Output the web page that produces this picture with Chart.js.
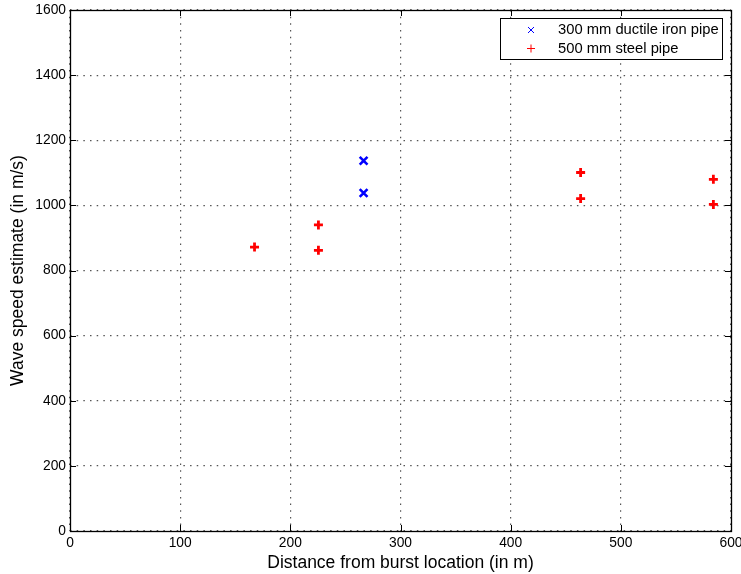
<!DOCTYPE html>
<html>
<head>
<meta charset="utf-8">
<script src="https://cdn.jsdelivr.net/npm/chart.js@4/dist/chart.umd.min.js"></script>
<style>
html,body{margin:0;padding:0;background:#fff;}
#wrap{position:relative;width:741px;height:574px;}
</style>
</head>
<body>
<div id="wrap"><canvas id="c" width="741" height="574"></canvas></div>
<script>
// Data
const seriesNames = ['300 mm ductile iron pipe', '500 mm steel pipe'];
const ductileX = [266.5, 266.5];
const ductileY = [1137, 1038];
const steelX = [167.5, 225.5, 225.5, 463.5, 463.5, 584, 584];
const steelY = [872, 940, 862, 1101, 1021, 1080, 1003];
const xTitle = 'Distance from burst location (in m)';
const yTitle = 'Wave speed estimate (in m/s)';
const xRange = [0, 600], xStep = 100;
const yRange = [0, 1600], yStep = 200;

const FONT = 'Liberation Sans, Arial, Helvetica, sans-serif';

const toPts = (xs, ys) => xs.map((x, i) => ({x: x, y: ys[i]}));

const framePlugin = {
  id: 'frame',
  afterDraw(chart) {
    const {ctx, chartArea: a, scales} = chart;
    ctx.save();
    ctx.strokeStyle = '#000';
    ctx.lineWidth = 1;
    ctx.setLineDash([]);
    // inward ticks on all sides
    const tl = 6;
    ctx.beginPath();
    scales.x.ticks.forEach(t => {
      const px = Math.round(scales.x.getPixelForValue(t.value)) + 0.5;
      ctx.moveTo(px, a.bottom); ctx.lineTo(px, a.bottom - tl);
      ctx.moveTo(px, a.top); ctx.lineTo(px, a.top + tl);
    });
    scales.y.ticks.forEach(t => {
      const py = Math.round(scales.y.getPixelForValue(t.value)) + 0.5;
      ctx.moveTo(a.left, py); ctx.lineTo(a.left + tl, py);
      ctx.moveTo(a.right, py); ctx.lineTo(a.right - tl, py);
    });
    ctx.stroke();
    // box
    ctx.lineWidth = 1.3;
    ctx.strokeRect(Math.round(a.left) + 0.5, Math.round(a.top) + 0.5,
                   Math.round(a.right - a.left), Math.round(a.bottom - a.top));
    // legend
    const lx = a.right - 231, ly = a.top + 8, lw = 222, lh = 41;
    ctx.fillStyle = '#fff';
    ctx.fillRect(lx, ly, lw, lh);
    ctx.lineWidth = 1;
    ctx.strokeRect(Math.round(lx) + 0.5, Math.round(ly) + 0.5, lw, lh);
    const rows = [ly + 12, ly + 30.5];
    const mx = lx + 31;
    // blue x
    ctx.strokeStyle = '#0000ff';
    ctx.beginPath();
    ctx.moveTo(mx - 3, rows[0] - 3); ctx.lineTo(mx + 3, rows[0] + 3);
    ctx.moveTo(mx - 3, rows[0] + 3); ctx.lineTo(mx + 3, rows[0] - 3);
    ctx.stroke();
    // red +
    ctx.strokeStyle = '#ff0000';
    ctx.beginPath();
    ctx.moveTo(mx - 4, rows[1]); ctx.lineTo(mx + 4, rows[1]);
    ctx.moveTo(mx, rows[1] - 4); ctx.lineTo(mx, rows[1] + 4);
    ctx.stroke();
    ctx.fillStyle = '#000';
    ctx.font = '14.75px ' + FONT;
    ctx.textBaseline = 'middle';
    ctx.textAlign = 'left';
    ctx.fillText(seriesNames[0], lx + 58, rows[0]);
    ctx.fillText(seriesNames[1], lx + 58, rows[1]);
    ctx.restore();
  }
};

new Chart(document.getElementById('c'), {
  type: 'scatter',
  data: {
    datasets: [
      {
        label: seriesNames[0],
        data: toPts(ductileX, ductileY),
        pointStyle: 'crossRot',
        radius: 5.5,
        borderWidth: 2.6,
        borderColor: '#0000ff',
        backgroundColor: '#0000ff'
      },
      {
        label: seriesNames[1],
        data: toPts(steelX, steelY),
        pointStyle: 'cross',
        radius: 4.5,
        borderWidth: 2.8,
        borderColor: '#ff0000',
        backgroundColor: '#ff0000'
      }
    ]
  },
  options: {
    responsive: false,
    animation: false,
    events: [],
    layout: {padding: {left: 0, right: 10, top: 10, bottom: 0}},
    plugins: {legend: {display: false}, tooltip: {enabled: false}},
    scales: {
      x: {
        type: 'linear',
        min: xRange[0], max: xRange[1],
        afterFit(s) { s.height = 43; s.paddingLeft = 0; s.paddingRight = 0; },
        ticks: {stepSize: xStep, color: '#000', font: {family: FONT, size: 13.8}, padding: 4, maxRotation: 0,
                callback: v => String(v)},
        grid: {color: '#555', lineWidth: 1.2, drawTicks: false},
        border: {display: false, dash: [1.5, 5.17]},
        title: {display: true, text: xTitle, color: '#000', font: {family: FONT, size: 17.5}, padding: {top: 0, bottom: 0}}
      },
      y: {
        type: 'linear',
        min: yRange[0], max: yRange[1],
        afterFit(s) { s.width = 70; s.paddingTop = 0; s.paddingBottom = 0; },
        ticks: {stepSize: yStep, color: '#000', font: {family: FONT, size: 13.8}, padding: 4,
                callback: v => String(v)},
        grid: {color: '#555', lineWidth: 1.2, drawTicks: false},
        border: {display: false, dash: [1.5, 5.17]},
        title: {display: true, text: yTitle, color: '#000', font: {family: FONT, size: 17.5}, padding: {top: 8, bottom: 0}}
      }
    }
  },
  plugins: [framePlugin]
});
</script>
</body>
</html>
